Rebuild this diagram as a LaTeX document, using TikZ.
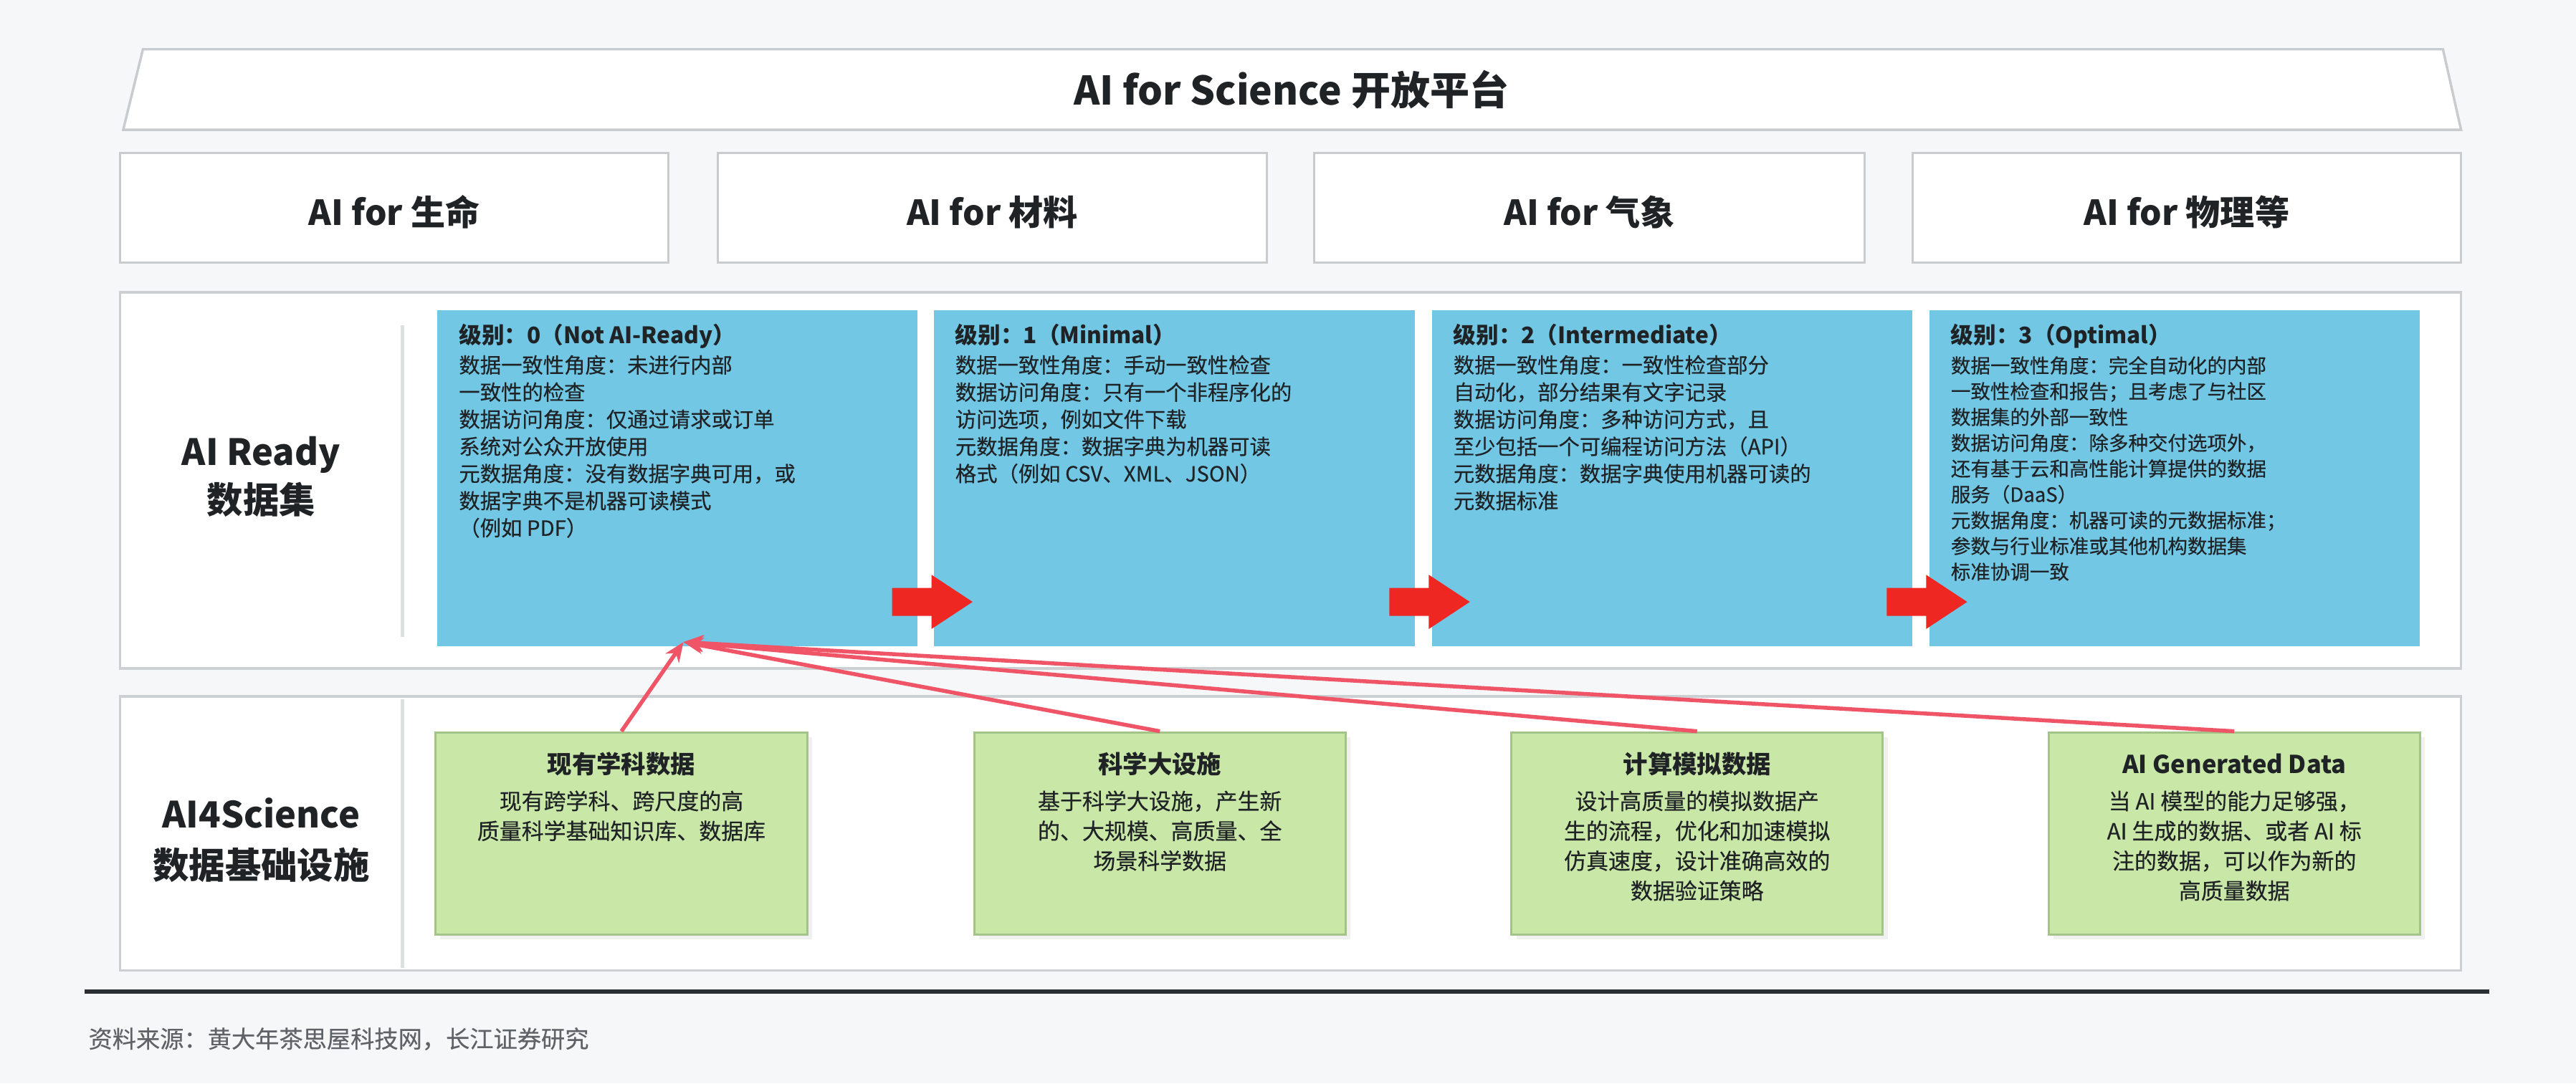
\documentclass[tikz,border=0pt]{standalone}
\usepackage{fontspec}
\setmainfont{Noto Sans CJK SC}
\newfontfamily\medfont{Noto Sans CJK SC}[FakeBold=0.35]
\usetikzlibrary{arrows.meta,fit,calc}
\definecolor{bgc}{HTML}{F6F7F9}
\definecolor{ink}{HTML}{202326}
\definecolor{panelgray}{HTML}{CDD0D3}
\definecolor{boxgray}{HTML}{C9CCCF}
\definecolor{divgray}{HTML}{DEDFE1}
\definecolor{readyblue}{HTML}{72C7E5}
\definecolor{infragreen}{HTML}{C9E7A7}
\definecolor{greenedge}{HTML}{A3C489}
\definecolor{blockred}{HTML}{EE2722}
\definecolor{linkpink}{HTML}{EF5467}
\definecolor{srcgray}{HTML}{5F6368}
\definecolor{rulegray}{HTML}{2B2F33}
\tikzset{
  panel/.style={draw=panelgray, line width=0.75pt, fill=white, inner sep=0pt},
  topbox/.style={draw=boxgray, line width=0.65pt, fill=white, inner sep=0pt},
  bluebox/.style={fill=readyblue, inner sep=0pt},
  greenbox/.style={fill=infragreen, draw=greenedge, line width=0.7pt, inner sep=0pt},
  txt/.style={inner sep=0pt, text=ink},
  titletxt/.style={txt, font=\fontsize{12pt}{14pt}\selectfont\bfseries},
  toptxt/.style={txt, font=\fontsize{10.5pt}{12pt}\selectfont\bfseries},
  sidetxt/.style={txt, font=\fontsize{11pt}{13pt}\selectfont\bfseries},
  headtxt/.style={txt, anchor=base west, font=\fontsize{6.9pt}{8pt}\selectfont\bfseries},
  bodytxt/.style={txt, anchor=base west, font=\medfont\fontsize{6.4pt}{8pt}\selectfont},
  smalltxt/.style={txt, anchor=base west, font=\medfont\fontsize{6.0pt}{8pt}\selectfont},
  gtitle/.style={txt, anchor=base, font=\fontsize{7.5pt}{9pt}\selectfont\bfseries},
  gbody/.style={txt, anchor=base, font=\medfont\fontsize{6.75pt}{9pt}\selectfont},
  link/.style={draw=linkpink, line width=1.2pt, -{Stealth[length=6pt,width=5pt]}},
  blockarrow/.style={fill=blockred},
}
\begin{document}
\begin{tikzpicture}[x=0.5pt,y=-0.5pt]
% background and bounds
\fill[bgc] (0,0) rectangle (1568,659.66);
\useasboundingbox (0,0) rectangle (1568,659.66);

% platform trapezoid
\draw[draw=boxgray, line width=0.75pt, fill=white] (87,30) -- (1487,30) -- (1498,79) -- (75,79) -- cycle;
\node[titletxt, anchor=base] (title) at (786,64) {AI for Science 开放平台};

% top application boxes
\node[topbox, fit={(73,93) (407,160)}] (t0) {};
\node[topbox, fit={(437,93) (771,160)}] (t1) {};
\node[topbox, fit={(800,93) (1135,160)}] (t2) {};
\node[topbox, fit={(1164,93) (1498,160)}] (t3) {};
\node[toptxt, anchor=base] (t0t) at (240,137) {AI for 生命};
\node[toptxt, anchor=base] (t1t) at (604,137) {AI for 材料};
\node[toptxt, anchor=base] (t2t) at (967.5,137) {AI for 气象};
\node[toptxt, anchor=base] (t3t) at (1331,137) {AI for 物理等};

% panels
\node[panel, fit={(73,178) (1498,407)}] (p1) {};
\node[panel, fit={(73,424) (1498,591)}] (p2) {};
\draw[divgray, line width=1.25pt] (245,198) -- (245,388);
\draw[divgray, line width=1.25pt] (245,426) -- (245,589.5);
\node[sidetxt, anchor=base] (p1a) at (159,283.5) {AI Ready};
\node[sidetxt, anchor=base] (p1b) at (159,312.5) {数据集};
\node[sidetxt, anchor=base] (p2a) at (159,504) {AI4Science};
\node[sidetxt, anchor=base] (p2b) at (159,535) {数据基础设施};

% blue level boxes
\node[bluebox, fit={(266,189) (558.5,393.4)}] (b0) {};
\node[bluebox, fit={(568.6,189) (861,393.4)}] (b1) {};
\node[bluebox, fit={(871.8,189) (1164,393.4)}] (b2) {};
\node[bluebox, fit={(1174.6,189) (1473,393.4)}] (b3) {};

\node[headtxt] (b0h) at (279,209.4) {级别：0（Not AI-Ready）};
\foreach \t [count=\i from 0] in {数据一致性角度：未进行内部, 一致性的检查, 数据访问角度：仅通过请求或订单, 系统对公众开放使用, 元数据角度：没有数据字典可用，或, 数据字典不是机器可读模式, （例如 PDF）}
  \node[bodytxt] (b0l\i) at (279,{227.1+\i*16.53}) {\t};

\node[headtxt] (b1h) at (581.1,209.4) {级别：1（Minimal）};
\foreach \t [count=\i from 0] in {数据一致性角度：手动一致性检查, 数据访问角度：只有一个非程序化的, 访问选项，例如文件下载, 元数据角度：数据字典为机器可读, 格式（例如 CSV、XML、JSON）}
  \node[bodytxt] (b1l\i) at (581.1,{227.1+\i*16.53}) {\t};

\node[headtxt] (b2h) at (884.3,209.4) {级别：2（Intermediate）};
\foreach \t [count=\i from 0] in {数据一致性角度：一致性检查部分, 自动化，部分结果有文字记录, 数据访问角度：多种访问方式，且, 至少包括一个可编程访问方法（API）, 元数据角度：数据字典使用机器可读的, 元数据标准}
  \node[bodytxt] (b2l\i) at (884.3,{227.1+\i*16.53}) {\t};

\node[headtxt] (b3h) at (1187.1,209.4) {级别：3（Optimal）};
\foreach \t [count=\i from 0] in {数据一致性角度：完全自动化的内部, 一致性检查和报告；且考虑了与社区, 数据集的外部一致性, 数据访问角度：除多种交付选项外，, 还有基于云和高性能计算提供的数据, 服务（DaaS）, 元数据角度：机器可读的元数据标准；, 参数与行业标准或其他机构数据集, 标准协调一致}
  \node[smalltxt] (b3l\i) at (1187.1,{227.1+\i*15.7}) {\t};

% red block arrows between levels
\foreach \dx in {0,302.7,605.4}
  \fill[blockarrow, xshift=\dx*0.5pt] (543,358) -- (567,358) -- (567,350) -- (592,366.5) -- (567,383) -- (567,375) -- (543,375) -- cycle;

% green infrastructure boxes (with soft shadow)
\foreach \xa/\xb in {265/491.5, 593/819, 920/1146, 1247/1473}
  \fill[black, opacity=0.06] (\xa+3,449) rectangle (\xb+3,572);
\node[greenbox, fit={(265,446) (491.5,569)}] (g0) {};
\node[greenbox, fit={(593,446) (819,569)}] (g1) {};
\node[greenbox, fit={(920,446) (1146,569)}] (g2) {};
\node[greenbox, fit={(1247,446) (1473,569)}] (g3) {};

\node[gtitle] (g0t) at (g0.center |- 0,471) {现有学科数据};
\foreach \t [count=\i from 0] in {现有跨学科、跨尺度的高, 质量科学基础知识库、数据库}
  \node[gbody] (g0l\i) at ($(g0.center |- 0,492.9)+(0,\i*18.2)$) {\t};

\node[gtitle] (g1t) at (g1.center |- 0,471) {科学大设施};
\foreach \t [count=\i from 0] in {基于科学大设施，产生新, 的、大规模、高质量、全, 场景科学数据}
  \node[gbody] (g1l\i) at ($(g1.center |- 0,492.9)+(0,\i*18.2)$) {\t};

\node[gtitle] (g2t) at (g2.center |- 0,471) {计算模拟数据};
\foreach \t [count=\i from 0] in {设计高质量的模拟数据产, 生的流程，优化和加速模拟, 仿真速度，设计准确高效的, 数据验证策略}
  \node[gbody] (g2l\i) at ($(g2.center |- 0,492.9)+(0,\i*18.2)$) {\t};

\node[gtitle] (g3t) at (g3.center |- 0,471) {AI Generated Data};
\foreach \t [count=\i from 0] in {当 AI 模型的能力足够强，, AI 生成的数据、或者 AI 标, 注的数据，可以作为新的, 高质量数据}
  \node[gbody] (g3l\i) at ($(g3.center |- 0,492.9)+(0,\i*18.2)$) {\t};

% pink connectors into level 0
\coordinate (tip) at (416,391);
\draw[link] (g0.north) -- (tip);
\draw[link] (g1.north) -- (tip);
\draw[link] (g2.north) -- (tip);
\draw[link] (g3.north) -- (tip);

% footer
\draw[rulegray, line width=1.3pt] (51.5,603.7) -- (1515,603.7);
\node[txt, anchor=base west, text=srcgray, font=\medfont\fontsize{7.25pt}{9pt}\selectfont] (src) at (53.5,638) {资料来源：黄大年茶思屋科技网，长江证券研究};
\end{tikzpicture}
\end{document}
